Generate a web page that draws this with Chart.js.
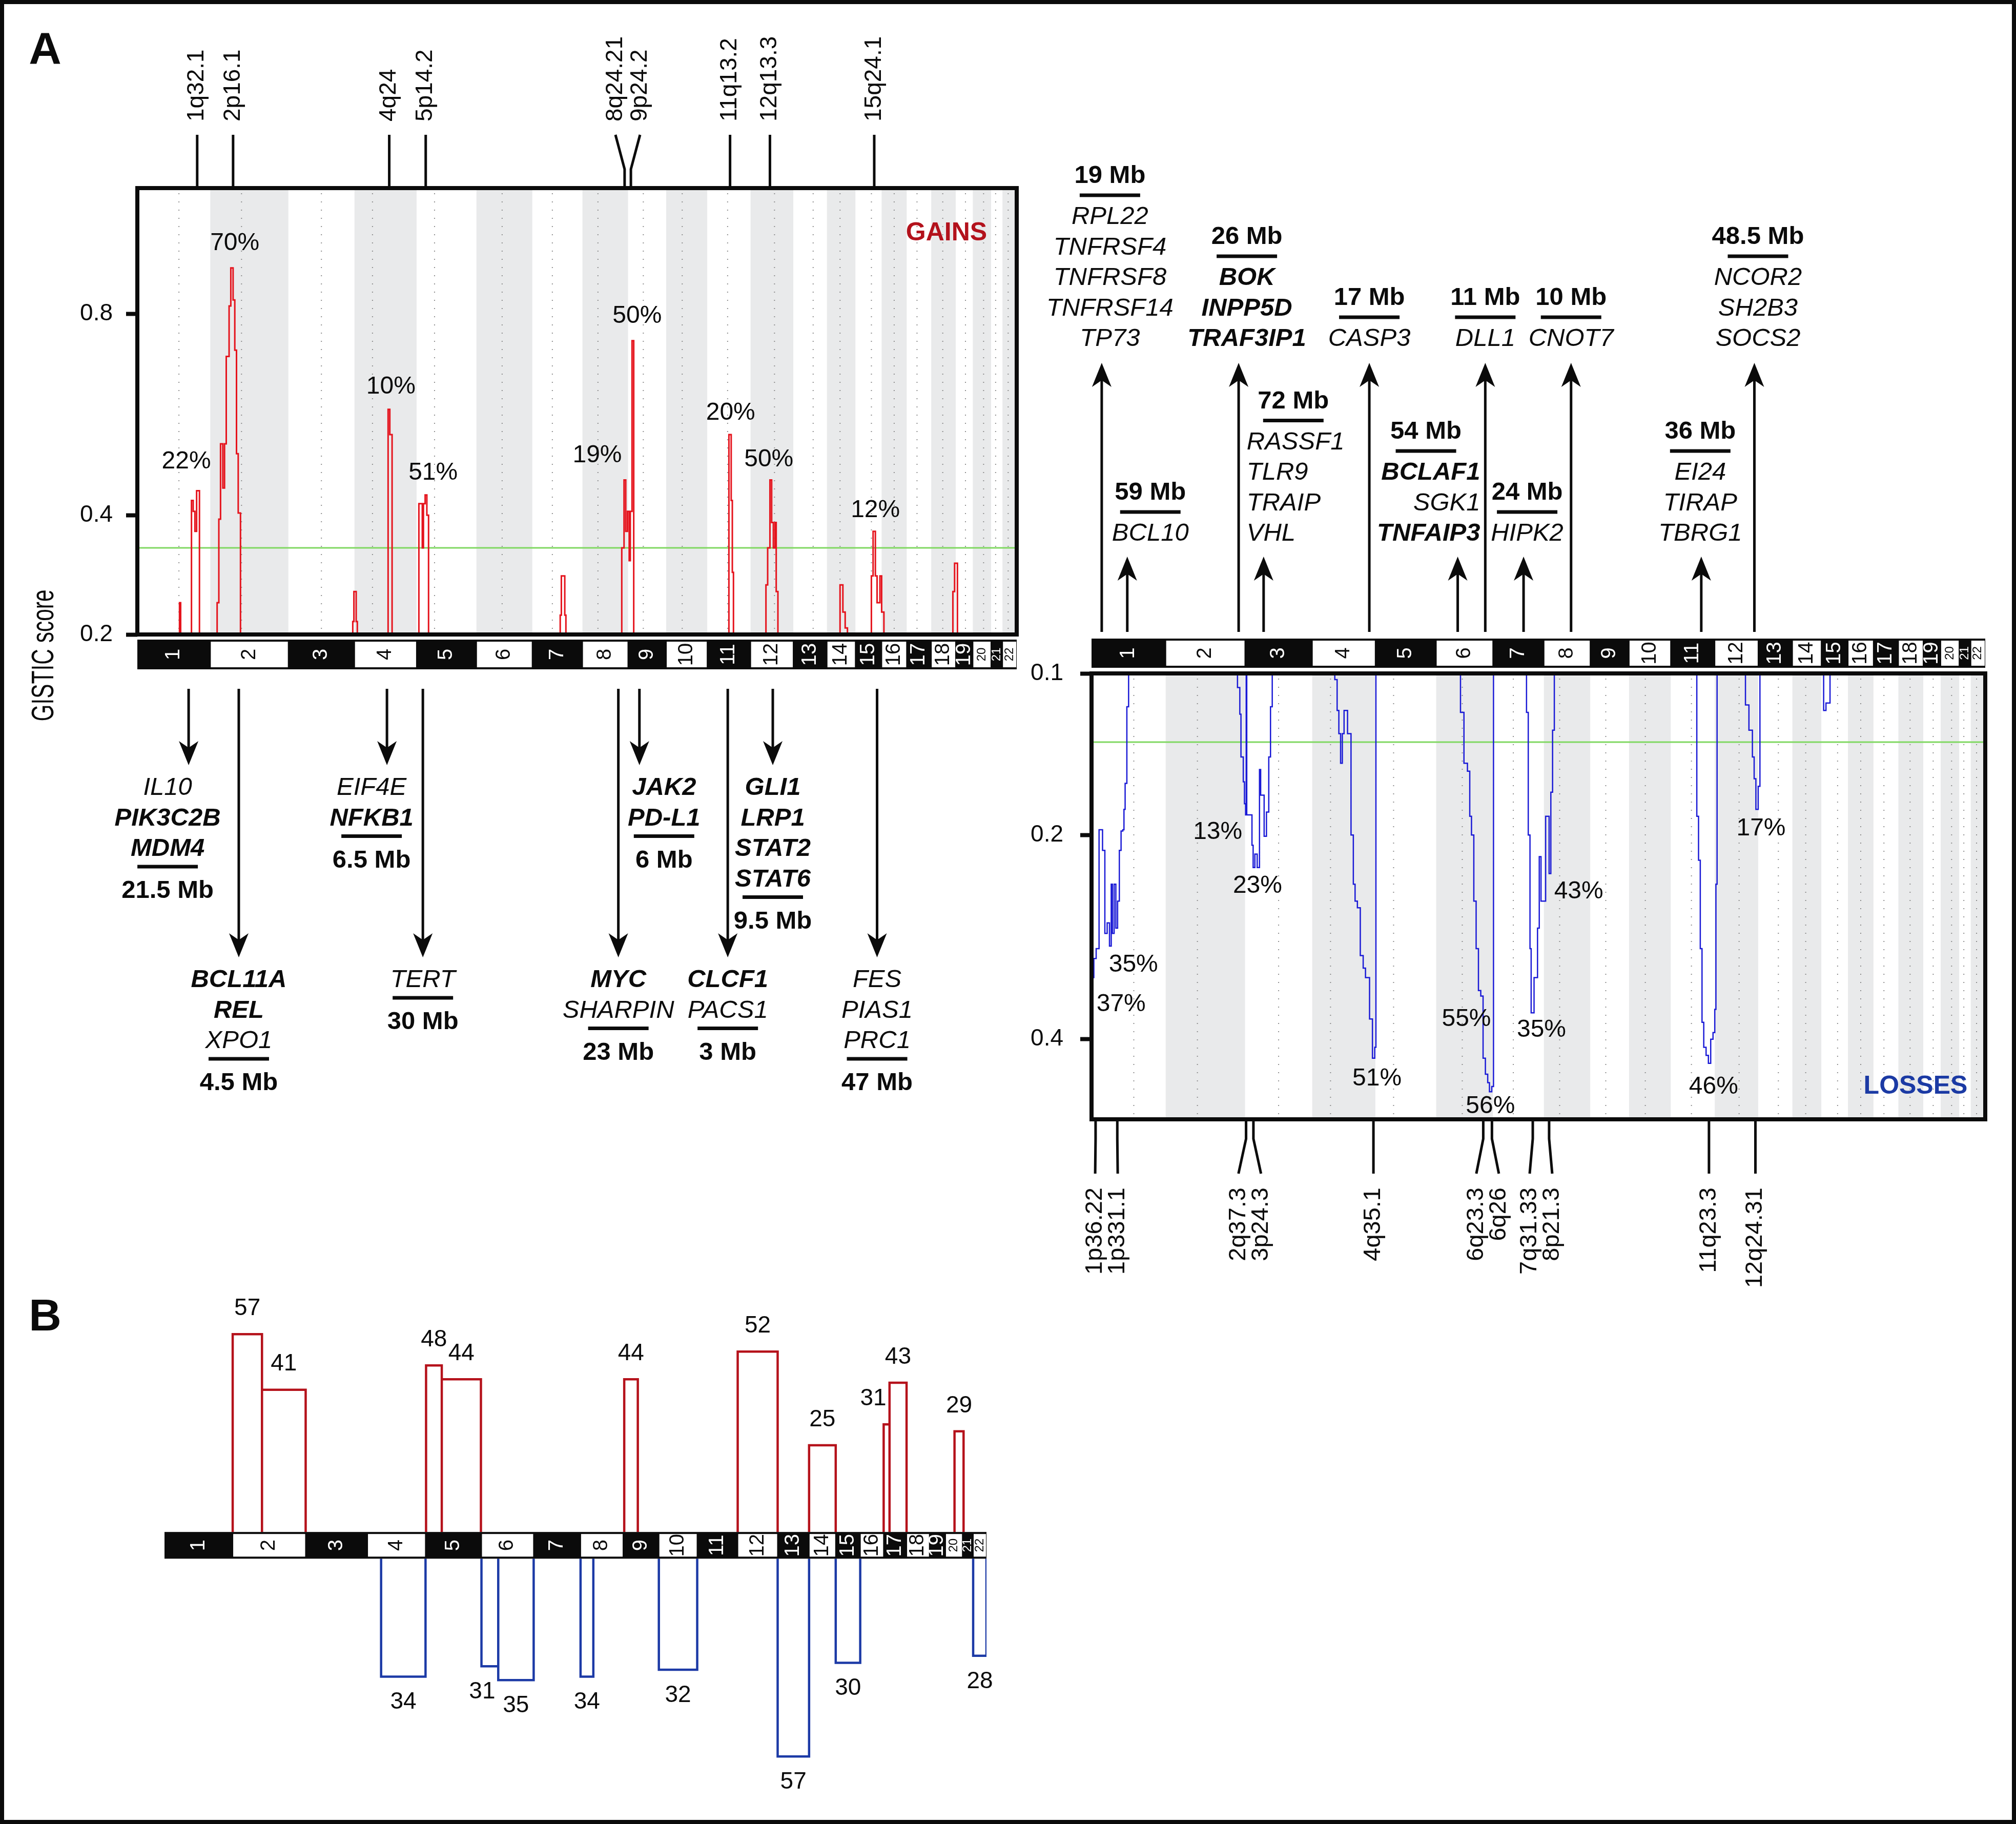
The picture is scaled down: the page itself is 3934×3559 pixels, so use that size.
<!DOCTYPE html>
<html>
<head>
<meta charset="utf-8">
<title>GISTIC gains and losses</title>
<script src="https://cdn.jsdelivr.net/npm/chart.js@4.4.1/dist/chart.umd.min.js"></script>
<style>
  html, body { margin: 0; padding: 0; background: #fff; }
  #page { position: relative; width: 3934px; height: 3559px; overflow: hidden; background: #fff; }
  #page canvas { position: absolute; }
  #frame { position: absolute; left: 0; top: 0; width: 3934px; height: 3559px; box-sizing: border-box; border: 8px solid #0b0b0b; pointer-events: none; }
</style>
</head>
<body>
<div id="page">
  <canvas id="gainsChart"></canvas>
  <canvas id="lossesChart"></canvas>
  <canvas id="countsChart"></canvas>
  <div id="frame"></div>
</div>
<script>
var FONT = '"Liberation Sans", Arial, Helvetica, sans-serif';
var INK = '#0b0b0b';

// chromosomes, lengths as drawn in the figure (relative units)
var chromNames = ['1','2','3','4','5','6','7','8','9','10','11','12','13','14','15','16','17','18','19','20','21','22'];
var chromLen = [128,137,116,109,105,98,88,80,67,72,76,75,59,50,46,44,43,43,30,32,20,25];
var centromere = [.57,.40,.50,.29,.30,.46,.40,.34,.40,.39,.47,.56,.59,.46,.61,.50,.42,.47,.57,.59,.40,.40];

// panel A - gains (step curve: position, score from that position on)
var gainTicks = [0.2, 0.4, 0.8];
var gainThreshold = 0.342;
var gainPos = [0, 74,76, 95,98,101,104,109,
  140,143,146,150,153,156,161,164,168,171,174,177,181,
  378,380,384,386, 440,443,447, 494,498,500,502,505,508,511,
  742,744,750,752, 850,854,857,860,863,865,868,871,
  1038,1042,1044,1046, 1103,1106,1110,1113,1116,1119,1121,1124,
  1233,1238,1242,1246, 1288,1291,1295,1298,1303,1306,1310,
  1431,1434,1439, 1543];
var gainScore = [0.15, 0.25,0.15, 0.427,0.407,0.371,0.445,0.15,
  0.25,0.393,0.534,0.45,0.534,0.71,0.817,0.90,0.83,0.723,0.515,0.404,0.15,
  0.22,0.268,0.22,0.15, 0.602,0.552,0.15, 0.421,0.421,0.342,0.421,0.437,0.40,0.15,
  0.23,0.294,0.23,0.15, 0.342,0.465,0.371,0.407,0.32,0.407,0.743,0.15,
  0.552,0.427,0.30,0.15, 0.279,0.342,0.465,0.387,0.342,0.387,0.268,0.15,
  0.279,0.235,0.21,0.15, 0.294,0.371,0.294,0.25,0.294,0.235,0.15,
  0.268,0.3155,0.15, 0.15];
var gainPctText = ['22%','70%','10%','51%','19%','50%','20%','50%','12%'];
var gainPctPos = [86,171,445,519,807,877,1041,1108,1295];
var gainPctScore = [0.50,0.955,0.647,0.478,0.512,0.795,0.595,0.504,0.409];
var gainBands = ['1q32.1','2p16.1','4q24','5p14.2','8q24.21','9p24.2','11q13.2','12q13.3','15q24.1'];
var gainBandPos = [105,168,442,506,855,866,1040,1110,1293];
var gainArrowPos = [90,178,438,501,844,881,1036,1115,1298];
var gainGenes = [['IL10','*PIK3C2B','*MDM4'], ['*BCL11A','*REL','XPO1'], ['EIF4E','*NFKB1'], ['TERT'],
  ['*MYC','SHARPIN'], ['*JAK2','*PD-L1'], ['*CLCF1','PACS1'], ['*GLI1','*LRP1','*STAT2','*STAT6'], ['FES','PIAS1','PRC1']];
var gainSizes = ['21.5 Mb','4.5 Mb','6.5 Mb','30 Mb','23 Mb','6 Mb','3 Mb','9.5 Mb','47 Mb'];

// panel A - losses
var lossTicks = [0.1, 0.2, 0.4];
var lossThreshold = 0.137;
var lossPos = [0,4,8,13,19,23,27,31,34,36,39,42,45,48,51,54,56,58,61,64,
  252,256,258,262,264,266,267,268,277,279,282,286,290,292,298,302,306,309,312,
  420,424,427,430,433,436,442,448,452,455,459,464,469,473,477,480,485,489,491,
  637,643,649,653,656,660,664,668,672,676,680,684,687,691,694,
  751,754,757,759,764,770,773,776,781,784,787,790,793,796,799,
  1045,1048,1051,1054,1057,1061,1065,1069,1073,1076,1078,1080,
  1129,1135,1141,1144,1147,1151,1154,
  1264,1268,1275, 1543];
var lossScore = [0.33,0.31,0.30,0.196,0.212,0.285,0.275,0.2975,0.24,0.285,0.24,0.28,0.255,0.212,0.197,0.196,0.181,0.163,0.117,0.08,
  0.107,0.121,0.146,0.162,0.177,0.185,0.08,0.185,0.208,0.226,0.215,0.226,0.154,0.171,0.201,0.183,0.146,0.117,0.08,
  0.103,0.119,0.132,0.15,0.132,0.119,0.132,0.20,0.24,0.255,0.261,0.307,0.32,0.33,0.33,0.376,0.4235,0.41,0.08,
  0.12,0.15,0.155,0.186,0.20,0.255,0.30,0.344,0.35,0.4235,0.444,0.455,0.467,0.46,0.08,
  0.12,0.20,0.30,0.369,0.33,0.28,0.217,0.255,0.255,0.186,0.186,0.231,0.169,0.13,0.08,
  0.186,0.22,0.30,0.38,0.41,0.42,0.43,0.40,0.392,0.365,0.24,0.08,
  0.116,0.13,0.146,0.16,0.181,0.165,0.08,
  0.119,0.115,0.08, 0.08];
var lossPctText = ['35%','37%','13%','23%','51%','55%','56%','35%','43%','46%','17%'];
var lossPctPos = [72.3,51.1,217.8,286.6,492.9,647.2,688.6,776.8,841.1,1073.9,1155.9];
var lossPctScore = [0.3167,0.3596,0.198,0.2415,0.4499,0.3761,0.4868,0.3891,0.2466,0.4608,0.195];
var lossBands = ['1p36.22','1p331.1','2q37.3','3p24.3','4q35.1','6q23.3','6q26','7q31.33','8p21.3','11q23.3','12q24.31'];
var lossBandPos = [7,44.5,266.8,279.5,486.7,676.3,691.3,761.8,790,1066,1146.2];
var lossArrowPos = [17.6,61.7,254,297.1,479.6,632.2,679.8,745.9,827.9,1052.7,1144.4];
var lossGenes = [['RPL22','TNFRSF4','TNFRSF8','TNFRSF14','TP73'], ['BCL10'], ['*BOK','*INPP5D','*TRAF3IP1'],
  ['RASSF1','TLR9','TRAIP','VHL'], ['CASP3'], ['*BCLAF1','SGK1','*TNFAIP3'], ['DLL1'], ['HIPK2'], ['CNOT7'],
  ['EI24','TIRAP','TBRG1'], ['NCOR2','SH2B3','SOCS2']];
var lossSizes = ['19 Mb','59 Mb','26 Mb','72 Mb','17 Mb','54 Mb','11 Mb','24 Mb','10 Mb','36 Mb','48.5 Mb'];

// panel B - number of cases per region
var gainBarStart = [128,183,491,520.5,863,1076,1210,1350,1361,1483];
var gainBarEnd = [183,265,520.5,594,888.5,1151,1260,1361,1393,1500];
var gainBarCount = [57,41,48,44,44,52,25,31,43,29];
var lossBarStart = [406.6,595,626.5,781,928,1151,1260,1518];
var lossBarEnd = [490,626.5,693,805,1000,1210,1306,1543];
var lossBarCount = [34,31,35,34,32,57,30,28];

// layout tweaks for the annotations (pixels)
var gainLong = [false,true,false,true,true,false,true,false,true];
var gainShift = [-41,0,-30,0,0,48,0,0,0];
var lossLong = [true,false,true,false,true,false,true,false,true,false,true];
var lossHeadShift = [16,45,16,58,0,-62,0,7,0,-2,7];
var lossGeneShift = [16,45,16,-33,0,44,0,7,0,-2,7];
var lossGeneAlign = ['center','center','center','left','center','right','center','center','center','center','center'];
var gainCountShift = [0,0,0,0,0,0,0,-26,0,0];
var lossCountShift = [0,-15,0,0,0,0,0,0];

var chromStart = [];
var genomeLen = 0;
chromLen.forEach(function (l) { chromStart.push(genomeLen); genomeLen += l; });

// power-transformed value axis, as used by the GISTIC score panels
var POWER = { yg: 0.756, yl: 0.338 };
class PowerScale extends Chart.LinearScale {
  _pw(v) { return Math.pow(Math.max(v, 1e-6), POWER[this.id] || 1); }
  getPixelForValue(value) {
    var a = this._pw(this.min), b = this._pw(this.max);
    return this.getPixelForDecimal((this._pw(value) - a) / (b - a));
  }
  getValueForPixel(pixel) {
    var a = this._pw(this.min), b = this._pw(this.max);
    return Math.pow(a + this.getDecimalForPixel(pixel) * (b - a), 1 / (POWER[this.id] || 1));
  }
}
PowerScale.id = 'power';
PowerScale.defaults = {};
Chart.register(PowerScale);

function rotText(ctx, s, x, y, align) {
  ctx.save();
  ctx.translate(x, y);
  ctx.rotate(-Math.PI / 2);
  ctx.textAlign = align;
  ctx.textBaseline = 'middle';
  ctx.fillText(s, 0, 0);
  ctx.restore();
}

function spread(xs, gap) {
  var out = xs.slice();
  for (var i = 1; i < out.length; i++) {
    if (out[i] - out[i - 1] < gap) {
      var m = (out[i] + out[i - 1]) / 2;
      out[i - 1] = m - gap / 2;
      out[i] = m + gap / 2;
    }
  }
  return out;
}

function drawChromBar(ctx, xs, top, bottom) {
  var x0 = xs.getPixelForValue(0), x1 = xs.getPixelForValue(genomeLen);
  ctx.save();
  ctx.fillStyle = INK;
  ctx.fillRect(x0, top, x1 - x0, bottom - top);
  chromNames.forEach(function (nm, i) {
    var a = xs.getPixelForValue(chromStart[i]);
    var b = xs.getPixelForValue(chromStart[i] + chromLen[i]);
    var even = i % 2 === 1;
    if (even) {
      ctx.fillStyle = '#fff';
      ctx.fillRect(a + 1, top + 4, b - a - 2, bottom - top - 8);
    }
    ctx.fillStyle = even ? INK : '#fff';
    ctx.font = (i >= 19 ? 24 : 40) + 'px ' + FONT;
    rotText(ctx, nm, (a + b) / 2, (top + bottom) / 2, 'center');
  });
  ctx.restore();
}

function shadeChromosomes(chart) {
  var ctx = chart.ctx, ca = chart.chartArea, x = chart.scales.x;
  ctx.save();
  ctx.fillStyle = '#e9eaeb';
  chromLen.forEach(function (len, i) {
    if (i % 2 === 1) {
      var a = x.getPixelForValue(chromStart[i]), b = x.getPixelForValue(chromStart[i] + len);
      ctx.fillRect(a, ca.top, b - a, ca.bottom - ca.top);
    }
  });
  ctx.strokeStyle = '#8d8d8d';
  ctx.lineWidth = 2;
  ctx.setLineDash([2, 14]);
  chromLen.forEach(function (len, i) {
    var cx = x.getPixelForValue(chromStart[i] + len * centromere[i]);
    ctx.beginPath();
    ctx.moveTo(cx, ca.top + 10);
    ctx.lineTo(cx, ca.bottom);
    ctx.stroke();
  });
  ctx.restore();
}

function arrow(ctx, x, from, tip) {
  var d = tip > from ? 1 : -1;
  ctx.lineWidth = 5;
  ctx.beginPath();
  ctx.moveTo(x, from);
  ctx.lineTo(x, tip - d * 30);
  ctx.stroke();
  ctx.beginPath();
  ctx.moveTo(x, tip);
  ctx.lineTo(x - 19, tip - d * 47);
  ctx.lineTo(x, tip - d * 34);
  ctx.lineTo(x + 19, tip - d * 47);
  ctx.closePath();
  ctx.fill();
}

function geneText(ctx, s, x, y, align) {
  var bold = s.charAt(0) === '*';
  ctx.font = (bold ? 'italic bold ' : 'italic ') + '49px ' + FONT;
  ctx.textAlign = align;
  ctx.textBaseline = 'alphabetic';
  ctx.fillText(bold ? s.slice(1) : s, x, y);
}

function sizeText(ctx, s, x, y) {
  ctx.font = 'bold 49px ' + FONT;
  ctx.textAlign = 'center';
  ctx.textBaseline = 'alphabetic';
  ctx.fillText(s, x, y);
}

// genes listed downwards, then the bar and the size
function blockBelow(ctx, genes, size, cx, first) {
  var step = 59.5;
  genes.forEach(function (g, i) { geneText(ctx, g, cx, first + i * step, 'center'); });
  var last = first + (genes.length - 1) * step;
  ctx.fillRect(cx - 59, last + 21 - 3.5, 118, 7);
  sizeText(ctx, size, cx, last + 82);
}

// size and bar on top, genes below them, bottom line fixed
function blockAbove(ctx, genes, size, hx, gx, align, last) {
  var step = 59.5;
  var first = last - (genes.length - 1) * step;
  genes.forEach(function (g, i) { geneText(ctx, g, gx, first + i * step, align); });
  ctx.fillRect(hx - 59, first - 56 - 3.5, 118, 7);
  sizeText(ctx, size, hx, first - 80);
}

var gainsDecor = {
  id: 'gainsDecor',
  beforeDatasetsDraw: function (chart) { shadeChromosomes(chart); },
  afterDatasetsDraw: function (chart) {
    var ctx = chart.ctx, ca = chart.chartArea, x = chart.scales.x, y = chart.scales.yg;
    ctx.save();
    ctx.fillStyle = INK;
    ctx.strokeStyle = INK;
    ctx.lineWidth = 8;
    ctx.strokeRect(ca.left, ca.top, ca.right - ca.left, ca.bottom - ca.top);
    drawChromBar(ctx, x, ca.bottom + 10, ca.bottom + 68);

    var px = gainBandPos.map(function (p) { return x.getPixelForValue(p); });
    var lx = spread(px, 48);
    ctx.lineWidth = 5;
    ctx.font = '46px ' + FONT;
    px.forEach(function (p, i) {
      ctx.beginPath();
      ctx.moveTo(p, ca.top - 4);
      ctx.lineTo(p, ca.top - 37);
      ctx.lineTo(lx[i], ca.top - 104);
      ctx.stroke();
      rotText(ctx, gainBands[i], lx[i], ca.top - 130, 'left');
    });

    gainArrowPos.forEach(function (p, i) {
      var ax = x.getPixelForValue(p);
      var tip = ca.bottom + (gainLong[i] ? 630 : 255);
      arrow(ctx, ax, ca.bottom + 106, tip);
      blockBelow(ctx, gainGenes[i], gainSizes[i], ax + gainShift[i], tip + 58);
    });

    ctx.font = '48px ' + FONT;
    ctx.textAlign = 'center';
    ctx.textBaseline = 'middle';
    gainPctText.forEach(function (t, i) {
      ctx.fillText(t, x.getPixelForValue(gainPctPos[i]), y.getPixelForValue(gainPctScore[i]));
    });

    ctx.fillStyle = '#b3121c';
    ctx.font = 'bold 50px ' + FONT;
    ctx.fillText('GAINS', ca.right - 137, ca.top + 88);

    ctx.fillStyle = INK;
    ctx.save();
    ctx.translate(ca.left - 181, ca.bottom + 41);
    ctx.rotate(-Math.PI / 2);
    ctx.font = '62px ' + FONT;
    var w = ctx.measureText('GISTIC score').width;
    ctx.scale(257 / w, 1);
    ctx.textAlign = 'center';
    ctx.textBaseline = 'middle';
    ctx.fillText('GISTIC score', 0, 0);
    ctx.restore();

    ctx.font = 'bold 88px ' + FONT;
    ctx.textAlign = 'center';
    ctx.textBaseline = 'middle';
    ctx.fillText('A', ca.left - 180, ca.top - 267);
    ctx.restore();
  }
};

var lossesDecor = {
  id: 'lossesDecor',
  beforeDatasetsDraw: function (chart) { shadeChromosomes(chart); },
  afterDatasetsDraw: function (chart) {
    var ctx = chart.ctx, ca = chart.chartArea, x = chart.scales.x, y = chart.scales.yl;
    ctx.save();
    ctx.fillStyle = INK;
    ctx.strokeStyle = INK;
    ctx.lineWidth = 8;
    ctx.strokeRect(ca.left, ca.top, ca.right - ca.left, ca.bottom - ca.top);
    drawChromBar(ctx, x, ca.top - 68, ca.top - 11);

    var px = lossBandPos.map(function (p) { return x.getPixelForValue(p); });
    var lx = spread(px, 44);
    ctx.lineWidth = 5;
    ctx.font = '47px ' + FONT;
    px.forEach(function (p, i) {
      ctx.beginPath();
      ctx.moveTo(p, ca.bottom + 4);
      ctx.lineTo(p, ca.bottom + 38);
      ctx.lineTo(lx[i], ca.bottom + 106);
      ctx.stroke();
      rotText(ctx, lossBands[i], lx[i], ca.bottom + 133, 'right');
    });

    lossArrowPos.forEach(function (p, i) {
      var ax = x.getPixelForValue(p);
      var long = lossLong[i];
      arrow(ctx, ax, ca.top - 81, ca.top - (long ? 606 : 228));
      blockAbove(ctx, lossGenes[i], lossSizes[i], ax + lossHeadShift[i], ax + lossGeneShift[i],
        lossGeneAlign[i], ca.top - (long ? 639 : 259));
    });

    ctx.font = '48px ' + FONT;
    ctx.textAlign = 'center';
    ctx.textBaseline = 'middle';
    lossPctText.forEach(function (t, i) {
      ctx.fillText(t, x.getPixelForValue(lossPctPos[i]), y.getPixelForValue(lossPctScore[i]));
    });

    ctx.fillStyle = '#1b3aa4';
    ctx.font = 'bold 50px ' + FONT;
    ctx.fillText('LOSSES', ca.right - 136, ca.bottom - 64);
    ctx.restore();
  }
};

var countsDecor = {
  id: 'countsDecor',
  afterDatasetsDraw: function (chart) {
    var ctx = chart.ctx, x = chart.scales.x, yG = chart.scales.yG, yL = chart.scales.yL;
    var top = yG.getPixelForValue(0), bot = yL.getPixelForValue(0);
    ctx.save();
    drawChromBar(ctx, x, top, bot);
    ctx.fillStyle = INK;
    ctx.font = '46px ' + FONT;
    ctx.textAlign = 'center';
    ctx.textBaseline = 'middle';
    gainBarCount.forEach(function (n, i) {
      var cx = x.getPixelForValue((gainBarStart[i] + gainBarEnd[i]) / 2) + gainCountShift[i];
      ctx.fillText(String(n), cx, yG.getPixelForValue(n) - 50);
    });
    lossBarCount.forEach(function (n, i) {
      var cx = x.getPixelForValue((lossBarStart[i] + lossBarEnd[i]) / 2) + lossCountShift[i];
      ctx.fillText(String(n), cx, yL.getPixelForValue(n) + 50);
    });
    ctx.font = 'bold 88px ' + FONT;
    ctx.fillText('B', 88, 122);
    ctx.restore();
  }
};

function setupCanvas(id, left, top, w, h) {
  var c = document.getElementById(id);
  c.width = w;
  c.height = h;
  c.style.left = left + 'px';
  c.style.top = top + 'px';
  c.style.width = w + 'px';
  c.style.height = h + 'px';
  return c;
}

function steps(pos, vals) {
  return pos.map(function (p, i) { return { x: p, y: vals[i] }; });
}

function outlineBars(starts, ends, counts) {
  var pts = [];
  starts.forEach(function (s, i) {
    pts.push({ x: s, y: 0 }, { x: s, y: counts[i] }, { x: ends[i], y: counts[i] }, { x: ends[i], y: 0 }, { x: ends[i], y: null });
  });
  return pts;
}

function scoreAxis(ticks, min, max, reverse, pad) {
  return {
    type: 'power', position: 'left', min: min, max: max, reverse: reverse,
    afterBuildTicks: function (s) { s.ticks = ticks.map(function (v) { return { value: v }; }); },
    afterFit: function (s) { s.width = 120; },
    ticks: { autoSkip: false, color: INK, padding: pad, font: { family: FONT, size: 46 },
      callback: function (v) { return Number(v).toFixed(1); } },
    grid: { drawOnChartArea: false, drawTicks: true, tickLength: 22, tickWidth: 8, tickColor: INK },
    border: { display: false }
  };
}

var common = {
  responsive: false, devicePixelRatio: 1, animation: false, events: [],
  plugins: { legend: { display: false }, tooltip: { enabled: false } }
};

new Chart(setupCanvas('gainsChart', 0, 0, 2070, 2450), {
  type: 'line',
  data: { datasets: [
    { data: steps(gainPos, gainScore), yAxisID: 'yg', borderColor: '#e5141d', borderWidth: 3,
      stepped: true, pointRadius: 0, fill: false },
    { data: [{ x: 0, y: gainThreshold }, { x: genomeLen, y: gainThreshold }], yAxisID: 'yg',
      borderColor: '#80d862', borderWidth: 3, pointRadius: 0, fill: false }
  ] },
  options: Object.assign({}, common, {
    layout: { padding: { left: 148, top: 367, right: 86, bottom: 1212 } },
    scales: {
      x: { type: 'linear', min: 0, max: genomeLen, display: false },
      yg: scoreAxis(gainTicks, 0.2, 1.08, false, 26)
    }
  }),
  plugins: [gainsDecor]
});

new Chart(setupCanvas('lossesChart', 2000, 250, 1934, 2350), {
  type: 'line',
  data: { datasets: [
    { data: steps(lossPos, lossScore), yAxisID: 'yl', borderColor: '#1a1ad6', borderWidth: 2.5,
      stepped: true, pointRadius: 0, fill: false },
    { data: [{ x: 0, y: lossThreshold }, { x: genomeLen, y: lossThreshold }], yAxisID: 'yl',
      borderColor: '#80d862', borderWidth: 3, pointRadius: 0, fill: false }
  ] },
  options: Object.assign({}, common, {
    layout: { padding: { left: 10, top: 1064, right: 60, bottom: 416 } },
    scales: {
      x: { type: 'linear', min: 0, max: genomeLen, display: false },
      yl: scoreAxis(lossTicks, 0.1, 0.505, true, 33)
    }
  }),
  plugins: [lossesDecor]
});

var countMax = 60, bandUnits = 7.7;
new Chart(setupCanvas('countsChart', 0, 2450, 2050, 1109), {
  type: 'line',
  data: { datasets: [
    { data: outlineBars(gainBarStart, gainBarEnd, gainBarCount), yAxisID: 'yG', borderColor: '#b5121b',
      borderWidth: 4.5, borderJoinStyle: 'miter', pointRadius: 0, spanGaps: false, fill: false },
    { data: outlineBars(lossBarStart, lossBarEnd, lossBarCount), yAxisID: 'yL', borderColor: '#1c3aa6',
      borderWidth: 4.5, borderJoinStyle: 'miter', pointRadius: 0, spanGaps: false, fill: false }
  ] },
  options: Object.assign({}, common, {
    layout: { padding: { left: 321, top: 133, right: 125, bottom: 111.5 } },
    scales: {
      x: { type: 'linear', min: 0, max: genomeLen, display: false },
      yG: { type: 'linear', min: -(countMax + bandUnits), max: countMax, display: false },
      yL: { type: 'linear', min: -(countMax + bandUnits), max: countMax, reverse: true, display: false }
    }
  }),
  plugins: [countsDecor]
});
</script>
</body>
</html>
